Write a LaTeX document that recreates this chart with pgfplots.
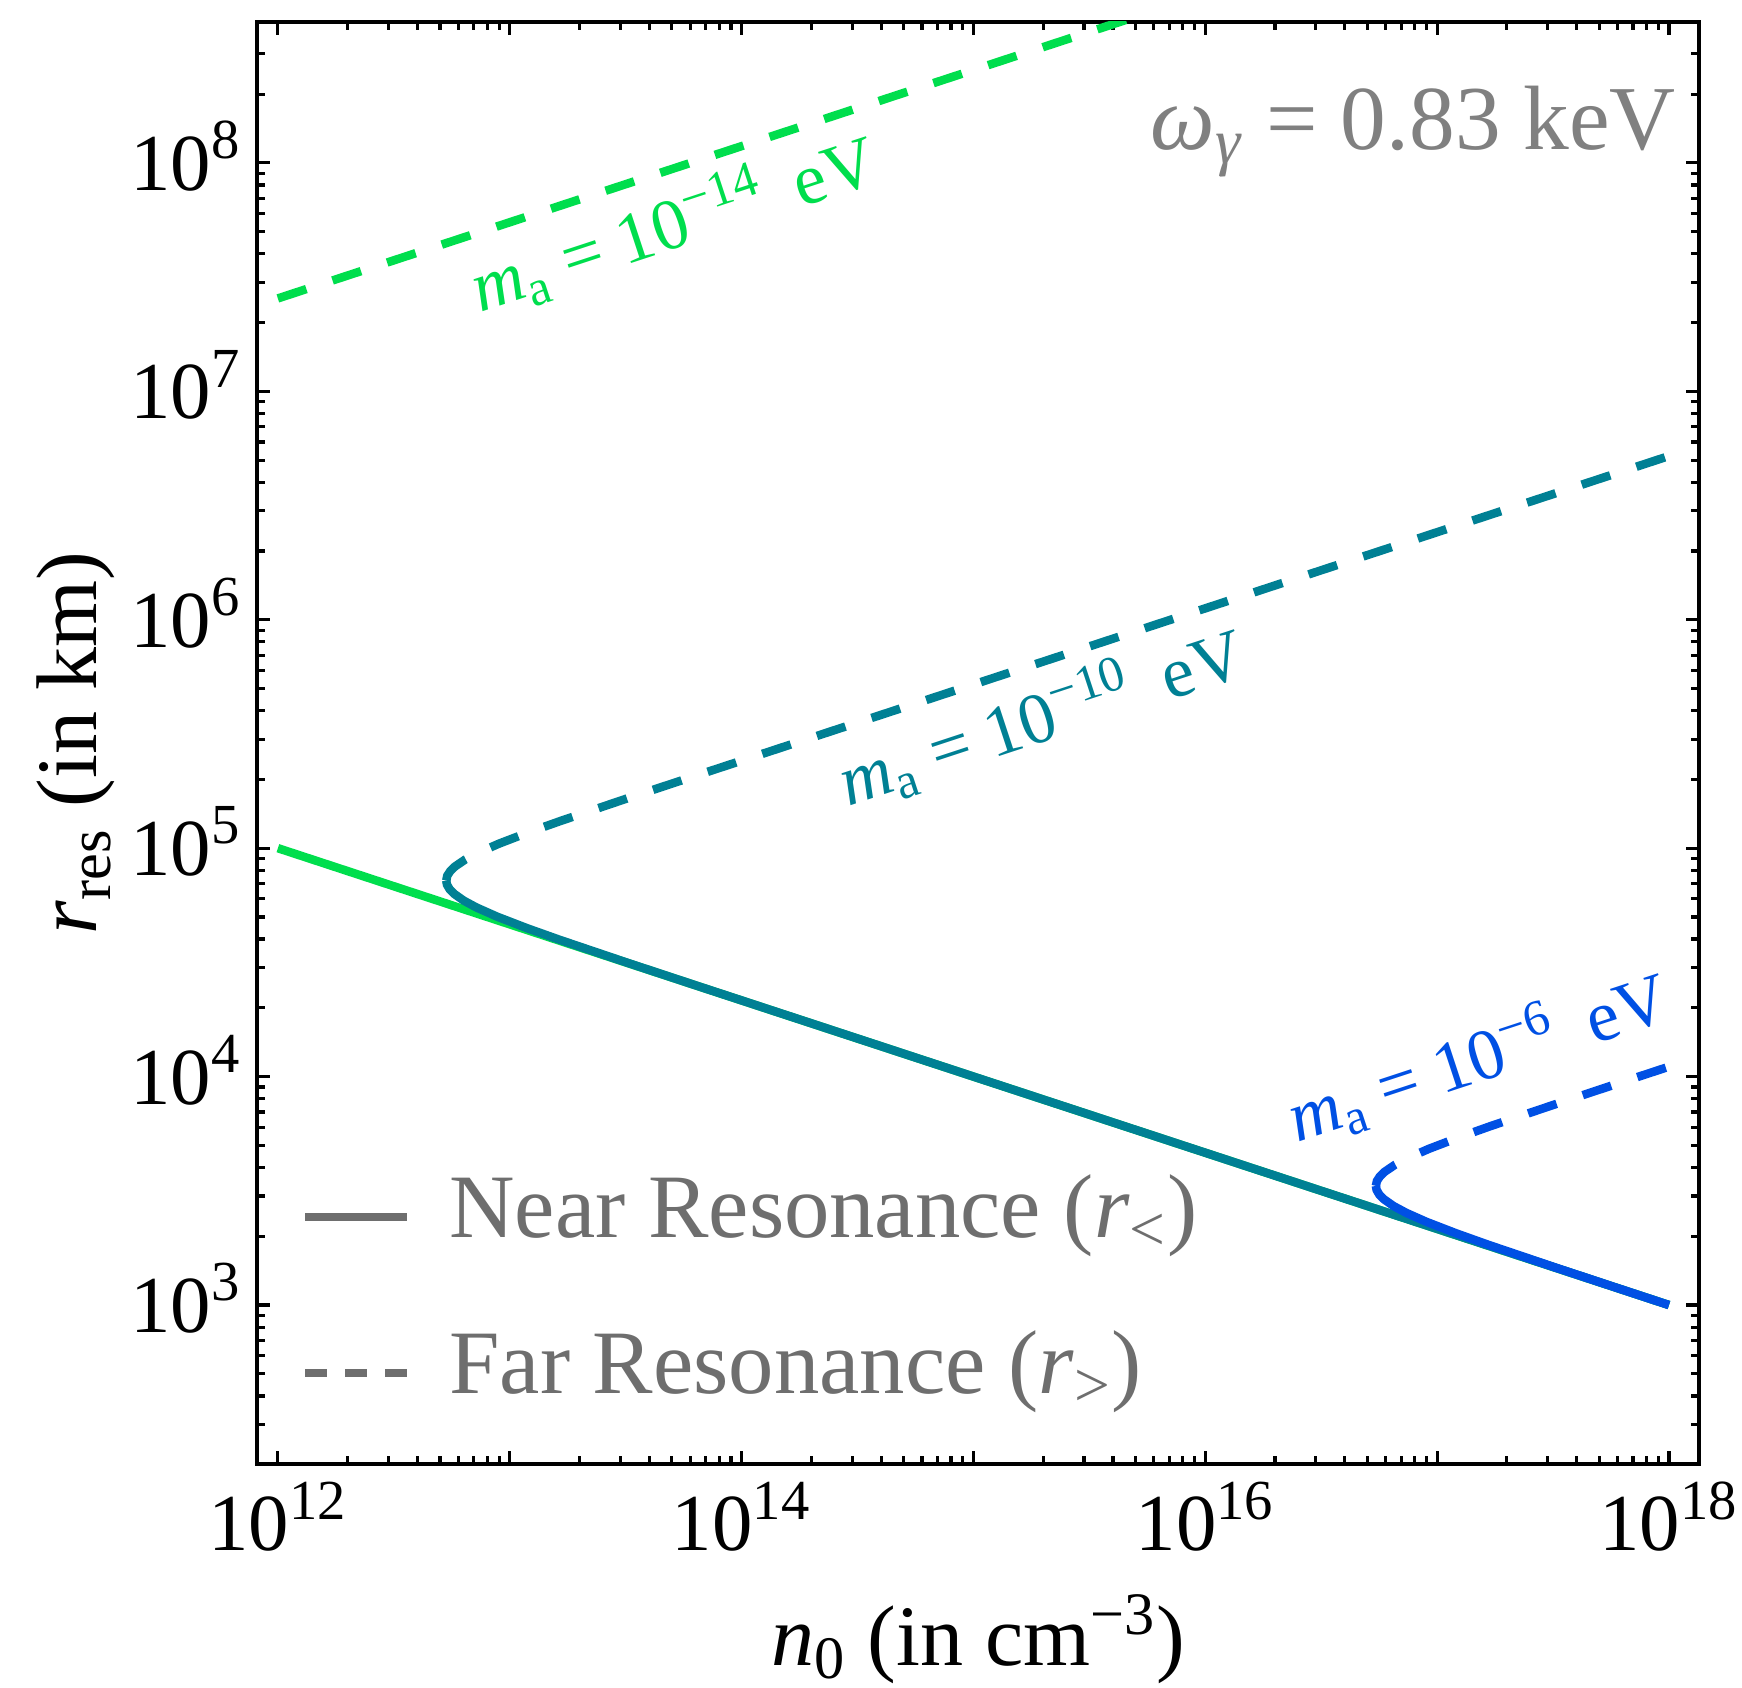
\documentclass[border=0pt]{standalone}
\usepackage{fontspec}
\setmainfont{Liberation Serif}
\usepackage{pgfplots}
\pgfplotsset{compat=1.18}

\definecolor{cgreen}{RGB}{0,222,77}
\definecolor{cteal}{RGB}{0,128,148}
\definecolor{cblue}{RGB}{0,80,228}
\definecolor{leggray}{RGB}{110,110,110}
\definecolor{lblgray}{RGB}{128,128,128}

\newcommand{\pw}[1]{10\textsuperscript{#1}}
\newcommand{\ma}{\textit{m}\textsubscript{a}}

\begin{document}
\begin{tikzpicture}
\begin{axis}[
  xmode=log, ymode=log,
  scale only axis, width=144.2mm, height=144.2mm,
  xmin=8.13e11, xmax=1.349e18,
  ymin=201.4, ymax=4.14e8,
  xtick={1e12,1e13,1e14,1e15,1e16,1e17,1e18},
  xticklabels={\pw{12},,\pw{14},,\pw{16},,\pw{18}},
  ytick={1e3,1e4,1e5,1e6,1e7,1e8},
  yticklabels={\pw{3},\pw{4},\pw{5},\pw{6},\pw{7},\pw{8}},
  minor xtick={2e12,3e12,4e12,5e12,6e12,7e12,8e12,9e12,
               2e13,3e13,4e13,5e13,6e13,7e13,8e13,9e13,
               2e14,3e14,4e14,5e14,6e14,7e14,8e14,9e14,
               2e15,3e15,4e15,5e15,6e15,7e15,8e15,9e15,
               2e16,3e16,4e16,5e16,6e16,7e16,8e16,9e16,
               2e17,3e17,4e17,5e17,6e17,7e17,8e17,9e17},
  minor ytick={300,400,500,600,700,800,900,
               2e3,3e3,4e3,5e3,6e3,7e3,8e3,9e3,
               2e4,3e4,4e4,5e4,6e4,7e4,8e4,9e4,
               2e5,3e5,4e5,5e5,6e5,7e5,8e5,9e5,
               2e6,3e6,4e6,5e6,6e6,7e6,8e6,9e6,
               2e7,3e7,4e7,5e7,6e7,7e7,8e7,9e7,
               2e8,3e8},
  tick align=inside,
  major tick length=1.3mm, minor tick length=0.8mm,
  every tick/.style={black, line width=0.9pt},
  axis line style={line width=1pt},
  tick label style={font=\fontsize{23}{27}\selectfont, inner sep=0pt},
  xticklabel style={anchor=base, yshift=-8.7mm},
  yticklabel style={anchor=base east, xshift=-1.5mm, yshift=-7.8pt},
  xlabel={\textit{n}\textsubscript{0} (in cm\textsuperscript{−3})},
  ylabel={\textit{r}\textsubscript{res} (in km)},
  label style={font=\fontsize{24.5}{29}\selectfont, inner sep=0pt},
  xlabel style={at={(axis description cs:0.5,-0.140)}, anchor=base},
  ylabel style={at={(axis description cs:-0.111,0.5)}, anchor=base},
  legend cell align=left,
  legend image code/.code={\draw[#1] (0mm,0mm) -- (10.2mm,0mm);},
  legend style={draw=none, fill=none, inner sep=0pt, outer sep=0pt,
    at={(axis description cs:0.0305,0.199)}, anchor=north west,
    font=\fontsize{25.8}{30}\selectfont, text=leggray, row sep=7.6mm,
    nodes={inner sep=0pt, text height=6mm, text depth=2mm},
    /tikz/every odd column/.append style={column sep=3.8mm}},
]
\addlegendimage{leggray, line width=0.85mm}
\addlegendentry{Near Resonance (\textit{r}\textsubscript{<})}
\addlegendimage{leggray, line width=0.85mm, dash pattern=on 2.2mm off 1.8mm}
\addlegendentry{Far Resonance (\textit{r}\textsubscript{>})}

% m_a = 1e-14 eV
\addplot[forget plot, cgreen, line width=0.85mm] coordinates {(1e12,1e5) (1e18,1e3)};
\addplot[forget plot, cgreen, line width=0.85mm, dash pattern=on 3mm off 2.75mm]
  coordinates {(1e12,2.551e7) (1e16,5.495e8)};

% m_a = 1e-10 eV
\addplot[forget plot, cteal, line width=0.85mm] coordinates {
  (5.322e12,7.216e4) (5.364e12,6.918e4) (5.510e12,6.607e4) (5.760e12,6.310e4)
  (6.343e12,5.888e4) (7.201e12,5.495e4) (8.834e12,5.012e4) (1.1853e13,4.467e4)
  (1.6299e13,3.981e4) (3.185e13,3.162e4) (6.321e13,2.512e4) (1e18,1e3)};
\addplot[forget plot, cteal, line width=0.85mm, dash pattern=on 3mm off 2.75mm] coordinates {
  (5.322e12,7.216e4) (5.3815e12,7.586e4) (5.544e12,7.943e4) (5.811e12,8.318e4)
  (6.422e12,8.913e4) (7.314e12,9.550e4) (9.0e12,1.047e5) (1.2098e13,1.175e5)
  (1.6654e13,1.318e5) (3.2584e13,1.660e5) (6.467e13,2.089e5) (1e18,5.208e6)};

% m_a = 1e-6 eV
\addplot[forget plot, cblue, line width=0.85mm] coordinates {
  (5.444e16,3324.5) (5.487e16,3187) (5.635e16,3044) (5.891e16,2907)
  (6.488e16,2713) (7.365e16,2532) (9.036e16,2309) (1.2123e17,2058)
  (1.667e17,1834) (3.258e17,1457) (6.466e17,1157) (1e18,1000)};
\addplot[forget plot, cblue, line width=0.85mm, dash pattern=on 3mm off 2.75mm] coordinates {
  (5.444e16,3324.5) (5.505e16,3495) (5.670e16,3660) (5.944e16,3832)
  (6.571e16,4106) (7.482e16,4400) (9.204e16,4825) (1.2375e17,5413)
  (1.7033e17,6074) (3.332e17,7645) (6.615e17,9625) (1e18,11050)};

\node[rotate=18.2, anchor=base west, inner sep=0pt, text=cgreen,
  font=\fontsize{20.5}{24}\selectfont] at (axis cs:7.46e12,2.2e7)
  {\ma{} = \pw{−14}\hspace{0.45em}eV};
\node[rotate=18.2, anchor=base west, inner sep=0pt, text=cteal,
  font=\fontsize{20.5}{24}\selectfont] at (axis cs:2.877e14,1.521e5)
  {\ma{} = \pw{−10}\hspace{0.45em}eV};
\node[rotate=18.2, anchor=base west, inner sep=0pt, text=cblue,
  font=\fontsize{20.5}{24}\selectfont] at (axis cs:2.48e16,5.14e3)
  {\ma{} = \pw{−6}\hspace{0.45em}eV};

\node[anchor=base east, inner sep=0pt, text=lblgray,
  font=\fontsize{26}{31}\selectfont] at (axis cs:1.081e18,1.14e8)
  {\textit{ω}\textsubscript{\textit{γ}} = 0.83 keV};

\node[anchor=base east, inner sep=0pt, font=\fontsize{15.6}{18}\selectfont]
  at (axis description cs:-0.1706,0.946) {3};

\coordinate (bbsw) at (rel axis cs:0,0);
\coordinate (bbne) at (rel axis cs:1,1);
\end{axis}
\pgfresetboundingbox
\path[use as bounding box] ([shift={(-25.7mm,-22.3mm)}]bbsw) rectangle ([shift={(4.3mm,2.2mm)}]bbne);
\end{tikzpicture}
\end{document}
